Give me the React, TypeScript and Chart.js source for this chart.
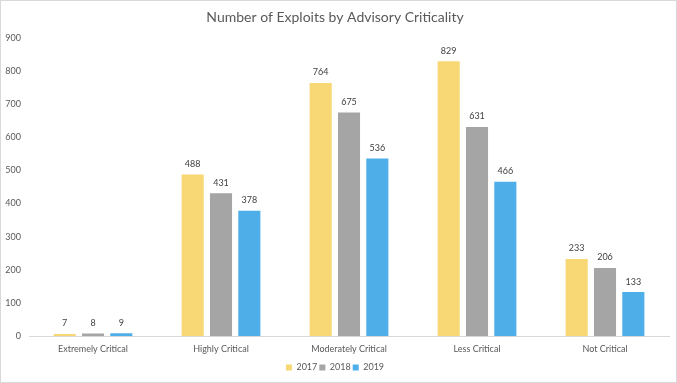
import React, { useEffect, useRef } from "react";
import { Chart, registerables } from "chart.js";

Chart.register(...registerables);

const categories = ["Extremely Critical", "Highly Critical", "Moderately Critical", "Less Critical", "Not Critical"];
const series2017 = [7, 488, 764, 829, 233];
const series2018 = [8, 431, 675, 631, 206];
const series2019 = [9, 378, 536, 466, 133];
const seriesLabels = ["2017", "2018", "2019"];
const yTicks = [0, 100, 200, 300, 400, 500, 600, 700, 800, 900];

const FONT = "Lato, 'Open Sans', sans-serif";

const valueLabels = {
  id: "valueLabels",
  afterDatasetsDraw(chart: any) {
    const ctx = chart.ctx;
    ctx.save();
    ctx.font = `9px ${FONT}`;
    ctx.fillStyle = "#404040";
    ctx.textAlign = "center";
    ctx.textBaseline = "bottom";
    chart.data.datasets.forEach((ds: any, i: number) => {
      const meta = chart.getDatasetMeta(i);
      meta.data.forEach((bar: any, j: number) => {
        ctx.fillText(String(ds.data[j]), bar.x, bar.y - 6);
      });
    });
    ctx.restore();
  },
};

export default function App() {
  const ref = useRef<HTMLCanvasElement>(null);
  useEffect(() => {
    const chart = new Chart(ref.current!, {
      type: "bar",
      data: {
        labels: categories,
        datasets: [
          { label: seriesLabels[0], data: series2017, backgroundColor: "#F8D775" },
          { label: seriesLabels[1], data: series2018, backgroundColor: "#A5A5A5" },
          { label: seriesLabels[2], data: series2019, backgroundColor: "#4DAEE8" },
        ],
      },
      options: {
        animation: false,
        responsive: false,
        maintainAspectRatio: false,
        layout: { padding: { left: 0, right: 7, top: 0, bottom: 0 } },
        datasets: { bar: { categoryPercentage: 0.664, barPercentage: 0.78 } },
        plugins: {
          title: {
            display: true,
            text: "Number of Exploits by Advisory Criticality",
            color: "#595959",
            font: { family: FONT, size: 14, weight: "normal" },
            padding: { top: 8, bottom: 12 },
          },
          legend: {
            position: "bottom",
            labels: {
              color: "#595959",
              font: { family: FONT, size: 9 },
              boxWidth: 6,
              boxHeight: 6,
              padding: 2,
            },
          },
          tooltip: { enabled: false },
        },
        scales: {
          x: {
            grid: { display: false, drawTicks: false },
            border: { display: true, color: "#D9D9D9" },
            ticks: { color: "#595959", font: { family: FONT, size: 9 }, padding: 7, maxRotation: 0 },
          },
          y: {
            min: 0,
            max: 900,
            afterBuildTicks: (s: any) => {
              s.ticks = yTicks.map((v) => ({ value: v }));
            },
            afterFit: (s: any) => {
              s.width = 28;
            },
            grid: { display: false, drawTicks: false },
            border: { display: false },
            ticks: { color: "#595959", font: { family: FONT, size: 9 }, padding: 8 },
          },
        },
      },
      plugins: [valueLabels],
    });
    return () => chart.destroy();
  }, []);
  return (
    <div
      style={{
        position: "fixed",
        left: 0,
        top: 0,
        width: 677,
        height: 383,
        boxSizing: "border-box",
        border: "1px solid #D9D9D9",
        background: "#fff",
      }}
    >
      <canvas ref={ref} width={675} height={381} style={{ display: "block" }} />
    </div>
  );
}
